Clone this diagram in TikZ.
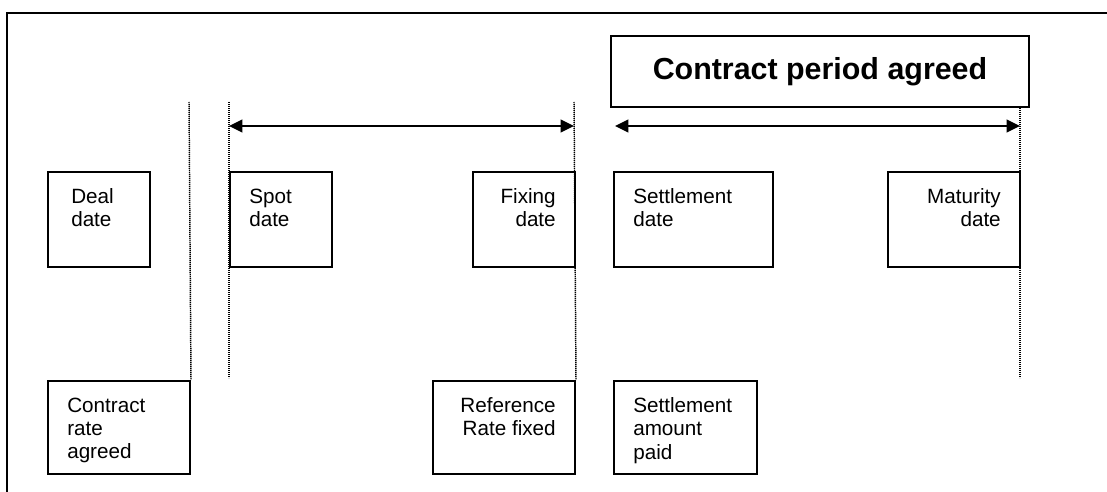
\documentclass[tikz,border=0pt]{standalone}
\usepackage{fontspec}
\setmainfont{Liberation Sans}
\usetikzlibrary{arrows.meta, positioning}

\begin{document}
\begin{tikzpicture}[x=0.75pt,y=-0.75pt,
	datebox/.style={draw=black,line width=1.5pt,rectangle,anchor=north west,inner sep=0pt,minimum height=71pt},
	lefttext/.style={anchor=north west,xshift=15pt,yshift=-13pt,inner sep=0pt,align=left,font=\fontsize{15.5}{17.5}\selectfont},
	righttext/.style={anchor=north east,xshift=-15pt,yshift=-13pt,inner sep=0pt,align=right,font=\fontsize{15.5}{17.5}\selectfont},
	guide/.style={line width=1.1pt,dash pattern=on 0.9pt off 0.6pt},
	span/.style={line width=1.7pt,{Triangle[length=10pt,width=9.5pt]}-{Triangle[length=10pt,width=9.5pt]}}]
\useasboundingbox (0,0) rectangle (1107,492);
\draw[line width=1.5pt] (7,492) -- (7,13) -- (1107,13);

\node[datebox,minimum width=313.5pt,minimum height=53.25pt,font=\fontsize{22.8}{26}\selectfont\bfseries] (period) at (610,35) {Contract period agreed};

\node[datebox,minimum width=76.5pt,label={[lefttext,xshift=3pt]north west:Deal\\date}] (deal) at (47,171) {};
\node[datebox,minimum width=76.5pt,label={[lefttext]north west:Spot\\date}] (spot) at (229,171) {};
\node[datebox,minimum width=76.5pt,label={[righttext]north east:Fixing\\date}] (fixing) at (472,171) {};
\node[datebox,minimum width=119.25pt,label={[lefttext]north west:Settlement\\date}] (settle) at (613,171) {};
\node[datebox,minimum width=99pt,label={[righttext]north east:Maturity\\date}] (maturity) at (887,171) {};

\node[datebox,minimum width=106.5pt,minimum height=69.75pt,label={[lefttext]north west:Contract\\rate\\agreed}] (rate) at (47,380) {};
\node[datebox,minimum width=106.5pt,minimum height=69.75pt,label={[righttext]north east:Reference\\Rate fixed}] (reffix) at (432,380) {};
\node[datebox,minimum width=107.25pt,minimum height=69.75pt,label={[lefttext]north west:Settlement\\amount\\paid}] (paid) at (613,380) {};

\coordinate (dealtop) at (189,102);
\coordinate (spottop) at (229,102);
\coordinate (spotend) at (229,378);
\coordinate (fixtop) at (574,102);
\coordinate (mattop) at (1020,106);
\coordinate (matend) at (1020,378);
\coordinate (settlearrow) at (615,126);

\draw[guide] (dealtop) -- (rate.north east);
\draw[guide] (spottop) -- (spotend);
\draw[guide] (fixtop) -- (reffix.north east);
\draw[guide] (mattop) -- (matend);

\draw[span] (spottop |- settlearrow) -- (fixtop |- settlearrow);
\draw[span] (settlearrow) -- (mattop |- settlearrow);
\end{tikzpicture}
\end{document}
